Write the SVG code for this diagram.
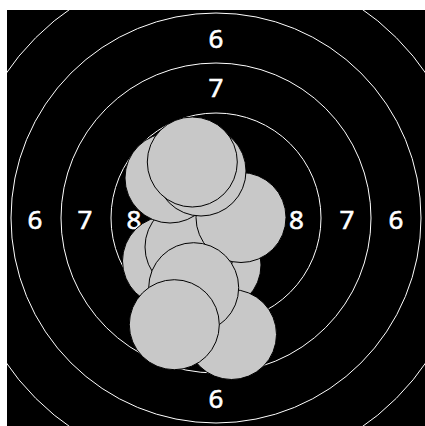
<svg xmlns="http://www.w3.org/2000/svg" width="425" height="426" viewBox="0 0 425 426">
<style>
.ring{fill:none;stroke:#ffffff;stroke-width:1}
.lbl{fill:#ffffff;stroke:#ffffff;stroke-width:0.6;font-family:"Noto Sans","DejaVu Sans",sans-serif;font-size:26px;text-anchor:middle}
.hole{fill:#c8c8c8;stroke:#000000;stroke-width:1}
</style>
<defs><clipPath id="clip"><rect x="7" y="10" width="418" height="416"/></clipPath></defs>
<rect x="0" y="0" width="425" height="426" fill="#ffffff"/>
<rect x="7" y="10" width="418" height="416" fill="#000000"/>
<g id="rings" clip-path="url(#clip)">
<circle class="ring" cx="216" cy="218" r="255"/>
<circle class="ring" cx="216" cy="218" r="205"/>
<circle class="ring" cx="216" cy="218" r="155"/>
<circle class="ring" cx="216" cy="218" r="105"/>
</g>
<g id="labels">
<text class="lbl" x="216" y="48">6</text>
<text class="lbl" x="216" y="97">7</text>
<text class="lbl" x="216" y="408">6</text>
<text class="lbl" x="35" y="229">6</text>
<text class="lbl" x="85" y="229">7</text>
<text class="lbl" x="134" y="229">8</text>
<text class="lbl" x="296.5" y="229">8</text>
<text class="lbl" x="347" y="229">7</text>
<text class="lbl" x="396" y="229">6</text>
</g>
<g id="holes">
<circle id="h5" class="hole" cx="167.5" cy="261" r="45"/>
<circle id="h7" class="hole" cx="216" cy="265" r="45"/>
<circle id="h6" class="hole" cx="190" cy="247" r="45"/>
<circle id="h3" class="hole" cx="170" cy="178" r="45"/>
<circle id="h4" class="hole" cx="241" cy="217.5" r="45"/>
<circle id="h2" class="hole" cx="201" cy="171" r="45"/>
<circle id="h1" class="hole" cx="192.3" cy="162" r="45"/>
<circle id="h10" class="hole" cx="231.5" cy="334.5" r="45"/>
<circle id="h8" class="hole" cx="193.7" cy="287.7" r="45"/>
<circle id="h9" class="hole" cx="174.3" cy="324.7" r="45"/>
</g>
</svg>
